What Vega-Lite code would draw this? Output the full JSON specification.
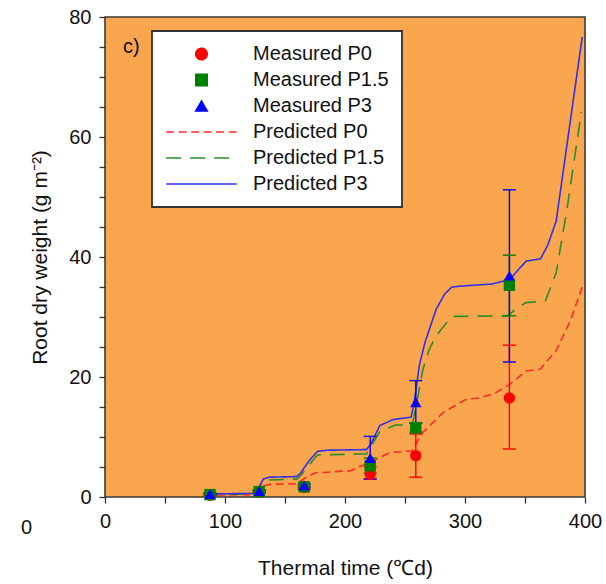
{
  "$schema": "https://vega.github.io/schema/vega-lite/v6.json",
  "autosize": "none",
  "width": 480,
  "height": 480,
  "padding": {"left": 105, "top": 17, "right": 21, "bottom": 87},
  "background": "white",
  "config": {
    "font": "Liberation Sans",
    "view": {"fill": "#F9A64E", "stroke": "#3a3a3a", "strokeWidth": 1.6},
    "legend": {"strokeWidth": 1.8},
    "axis": {"grid": false, "domain": false, "tickColor": "#333", "tickSize": 6, "tickWidth": 1.3,
             "labelFont": "Liberation Sans", "labelFontSize": 20, "labelColor": "#111",
             "titleFont": "Liberation Sans", "titleFontSize": 21, "titleFontWeight": "normal", "titleColor": "#111"}
  },
  "datasets": {
    "measured": [
      {"series": "Measured P0", "t": 87.5, "w": 0.3, "lo": 0.1, "hi": 0.5},
      {"series": "Measured P0", "t": 128.5, "w": 0.8, "lo": 0.6, "hi": 1.0},
      {"series": "Measured P0", "t": 166, "w": 1.6, "lo": 1.3, "hi": 1.9},
      {"series": "Measured P0", "t": 221, "w": 3.8, "lo": 3.0, "hi": 5.0},
      {"series": "Measured P0", "t": 259, "w": 6.9, "lo": 3.3, "hi": 10.5},
      {"series": "Measured P0", "t": 337, "w": 16.5, "lo": 8.0, "hi": 25.3},
      {"series": "Measured P1.5", "t": 87.5, "w": 0.4, "lo": 0.2, "hi": 0.6},
      {"series": "Measured P1.5", "t": 128.5, "w": 0.9, "lo": 0.7, "hi": 1.1},
      {"series": "Measured P1.5", "t": 166, "w": 1.7, "lo": 1.4, "hi": 2.0},
      {"series": "Measured P1.5", "t": 221, "w": 5.2, "lo": 4.0, "hi": 6.5},
      {"series": "Measured P1.5", "t": 259, "w": 11.5, "lo": 10.8, "hi": 12.4},
      {"series": "Measured P1.5", "t": 337, "w": 35.3, "lo": 30.2, "hi": 40.3},
      {"series": "Measured P3", "t": 87.5, "w": 0.5, "lo": 0.3, "hi": 0.7},
      {"series": "Measured P3", "t": 128.5, "w": 1.0, "lo": 0.8, "hi": 1.2},
      {"series": "Measured P3", "t": 166, "w": 1.9, "lo": 1.6, "hi": 2.2},
      {"series": "Measured P3", "t": 221, "w": 6.5, "lo": 3.0, "hi": 10.1},
      {"series": "Measured P3", "t": 259, "w": 15.8, "lo": 12.3, "hi": 19.4},
      {"series": "Measured P3", "t": 337, "w": 36.9, "lo": 22.5, "hi": 51.2}
    ],
    "predicted": [
      {"series": "Predicted P0", "t": 83, "w": 0.3},
      {"series": "Predicted P0", "t": 125, "w": 0.4},
      {"series": "Predicted P0", "t": 131, "w": 1.8},
      {"series": "Predicted P0", "t": 137, "w": 2.1},
      {"series": "Predicted P0", "t": 160, "w": 2.2},
      {"series": "Predicted P0", "t": 167, "w": 3.2},
      {"series": "Predicted P0", "t": 175, "w": 4.0},
      {"series": "Predicted P0", "t": 205, "w": 4.4},
      {"series": "Predicted P0", "t": 221, "w": 5.8},
      {"series": "Predicted P0", "t": 237.5, "w": 7.4},
      {"series": "Predicted P0", "t": 256, "w": 7.7},
      {"series": "Predicted P0", "t": 260, "w": 9.2},
      {"series": "Predicted P0", "t": 265, "w": 10.8},
      {"series": "Predicted P0", "t": 282, "w": 14.1},
      {"series": "Predicted P0", "t": 301, "w": 16.3},
      {"series": "Predicted P0", "t": 312, "w": 16.5},
      {"series": "Predicted P0", "t": 325, "w": 17.3},
      {"series": "Predicted P0", "t": 337.5, "w": 18.8},
      {"series": "Predicted P0", "t": 351, "w": 21.0},
      {"series": "Predicted P0", "t": 362.5, "w": 21.3},
      {"series": "Predicted P0", "t": 376, "w": 24.4},
      {"series": "Predicted P0", "t": 388, "w": 29.5},
      {"series": "Predicted P0", "t": 398.6, "w": 35.5},
      {"series": "Predicted P1.5", "t": 83, "w": 0.4},
      {"series": "Predicted P1.5", "t": 125, "w": 0.5},
      {"series": "Predicted P1.5", "t": 132, "w": 2.8},
      {"series": "Predicted P1.5", "t": 160, "w": 3.0},
      {"series": "Predicted P1.5", "t": 164, "w": 3.8},
      {"series": "Predicted P1.5", "t": 177, "w": 7.0},
      {"series": "Predicted P1.5", "t": 218, "w": 7.2},
      {"series": "Predicted P1.5", "t": 229, "w": 10.9},
      {"series": "Predicted P1.5", "t": 242, "w": 12.0},
      {"series": "Predicted P1.5", "t": 256, "w": 12.0},
      {"series": "Predicted P1.5", "t": 258, "w": 14.0},
      {"series": "Predicted P1.5", "t": 261, "w": 17.0},
      {"series": "Predicted P1.5", "t": 265, "w": 21.3},
      {"series": "Predicted P1.5", "t": 270, "w": 24.5},
      {"series": "Predicted P1.5", "t": 276, "w": 26.9},
      {"series": "Predicted P1.5", "t": 289, "w": 30.1},
      {"series": "Predicted P1.5", "t": 336, "w": 30.2},
      {"series": "Predicted P1.5", "t": 343, "w": 31.5},
      {"series": "Predicted P1.5", "t": 351, "w": 32.4},
      {"series": "Predicted P1.5", "t": 367, "w": 32.7},
      {"series": "Predicted P1.5", "t": 376, "w": 37.4},
      {"series": "Predicted P1.5", "t": 385, "w": 48.0},
      {"series": "Predicted P1.5", "t": 397, "w": 64.2},
      {"series": "Predicted P3", "t": 83, "w": 0.5},
      {"series": "Predicted P3", "t": 125, "w": 0.6},
      {"series": "Predicted P3", "t": 128, "w": 1.5},
      {"series": "Predicted P3", "t": 132, "w": 3.0},
      {"series": "Predicted P3", "t": 137, "w": 3.3},
      {"series": "Predicted P3", "t": 160, "w": 3.4},
      {"series": "Predicted P3", "t": 163, "w": 4.0},
      {"series": "Predicted P3", "t": 170, "w": 6.0},
      {"series": "Predicted P3", "t": 177, "w": 7.6},
      {"series": "Predicted P3", "t": 185, "w": 7.8},
      {"series": "Predicted P3", "t": 218, "w": 7.9},
      {"series": "Predicted P3", "t": 222, "w": 9.0},
      {"series": "Predicted P3", "t": 229, "w": 11.9},
      {"series": "Predicted P3", "t": 240, "w": 12.9},
      {"series": "Predicted P3", "t": 255, "w": 13.3},
      {"series": "Predicted P3", "t": 257, "w": 15.0},
      {"series": "Predicted P3", "t": 259.7, "w": 18.6},
      {"series": "Predicted P3", "t": 262, "w": 22.0},
      {"series": "Predicted P3", "t": 266.7, "w": 25.8},
      {"series": "Predicted P3", "t": 276, "w": 31.3},
      {"series": "Predicted P3", "t": 283, "w": 33.8},
      {"series": "Predicted P3", "t": 289, "w": 35.0},
      {"series": "Predicted P3", "t": 300, "w": 35.2},
      {"series": "Predicted P3", "t": 323, "w": 35.5},
      {"series": "Predicted P3", "t": 337.5, "w": 36.3},
      {"series": "Predicted P3", "t": 345, "w": 38.0},
      {"series": "Predicted P3", "t": 351, "w": 39.3},
      {"series": "Predicted P3", "t": 363, "w": 39.7},
      {"series": "Predicted P3", "t": 369, "w": 42.0},
      {"series": "Predicted P3", "t": 376, "w": 46.0},
      {"series": "Predicted P3", "t": 397.7, "w": 76.7}
    ],
    "notes": [
      {"label": "c)", "t": 15, "w": 75.0},
      {"label": "0", "t": -70, "w": -5.2}
    ]
  },
  "encoding": {
    "x": {"field": "t", "type": "quantitative",
          "scale": {"domain": [0, 400], "nice": false, "zero": false},
          "axis": {"title": "Thermal time (\u2103d)", "values": [0, 50, 100, 150, 200, 250, 300, 350, 400],
                   "labelExpr": "datum.value % 100 === 0 ? datum.label : ''",
                   "labelPadding": 8, "titlePadding": 26, "labelFlush": false, "labelOverlap": false}},
    "y": {"field": "w", "type": "quantitative",
          "scale": {"domain": [0, 80], "nice": false, "zero": false},
          "axis": {"title": "Root dry weight (g m\u207b\u00b2)", "values": [0, 5, 10, 15, 20, 25, 30, 35, 40, 45, 50, 55, 60, 65, 70, 75, 80],
                   "labelExpr": "datum.value % 20 === 0 ? datum.label : ''",
                   "labelPadding": 8, "titlePadding": 18, "labelFlush": false, "labelOverlap": false}}
  },
  "layer": [
    {
      "data": {"name": "predicted"},
      "mark": {"type": "line", "strokeWidth": 1.6, "interpolate": "linear"},
      "encoding": {
        "color": {"field": "series", "type": "nominal",
                  "scale": {"domain": ["Measured P0", "Measured P1.5", "Measured P3", "Predicted P0", "Predicted P1.5", "Predicted P3"],
                            "range": ["#FF0000", "#008000", "#0000FF", "#FF2A2A", "#2A8C2A", "#3030E8"]}},
        "strokeDash": {"field": "series", "type": "nominal", "legend": null,
                       "scale": {"domain": ["Measured P0", "Measured P1.5", "Measured P3", "Predicted P0", "Predicted P1.5", "Predicted P3"],
                                 "range": [[1, 0], [1, 0], [1, 0], [8, 4.5], [15, 9], [1, 0]]}}
      }
    },
    {
      "data": {"name": "measured"},
      "mark": {"type": "rule", "strokeWidth": 1.4, "opacity": 1},
      "encoding": {
        "y": {"field": "lo", "type": "quantitative"},
        "y2": {"field": "hi"},
        "color": {"field": "series", "type": "nominal"}
      }
    },
    {
      "data": {"name": "measured"},
      "mark": {"type": "tick", "orient": "horizontal", "size": 13, "thickness": 1.4, "opacity": 1},
      "encoding": {
        "y": {"field": "lo", "type": "quantitative"},
        "color": {"field": "series", "type": "nominal"}
      }
    },
    {
      "data": {"name": "measured"},
      "mark": {"type": "tick", "orient": "horizontal", "size": 13, "thickness": 1.4, "opacity": 1},
      "encoding": {
        "y": {"field": "hi", "type": "quantitative"},
        "color": {"field": "series", "type": "nominal"}
      }
    },
    {
      "data": {"name": "measured"},
      "mark": {"type": "point", "filled": true, "opacity": 1},
      "encoding": {
        "color": {"field": "series", "type": "nominal",
                  "legend": {
                    "title": null, "orient": "none", "legendX": 47, "legendY": 14,
                    "fillColor": "white", "strokeColor": "#333", "padding": 13,
                    "rowPadding": 6, "labelOffset": 15, "clipHeight": 20,
                    "symbolOpacity": 1, "symbolStrokeWidth": 1.6,
                    "labelFont": "Liberation Sans", "labelFontSize": 20, "labelColor": "#111",
                    "labelLimit": 300
                  }},
        "size": {"field": "series", "type": "nominal",
                 "scale": {"type": "ordinal", "domain": ["Measured P0", "Measured P1.5", "Measured P3", "Predicted P0", "Predicted P1.5", "Predicted P3"],
                           "range": [130, 130, 130, 5000, 5000, 5000]}},
        "shape": {"field": "series", "type": "nominal", "legend": null,
                  "scale": {"domain": ["Measured P0", "Measured P1.5", "Measured P3", "Predicted P0", "Predicted P1.5", "Predicted P3"],
                            "range": ["circle", "square", "triangle-up", "stroke", "stroke", "stroke"]}}
      }
    },
    {
      "data": {"name": "notes"},
      "mark": {"type": "text", "fontSize": 20, "font": "Liberation Sans", "color": "#111", "align": "left", "baseline": "middle"},
      "encoding": {
        "text": {"field": "label"}
      }
    }
  ]
}
